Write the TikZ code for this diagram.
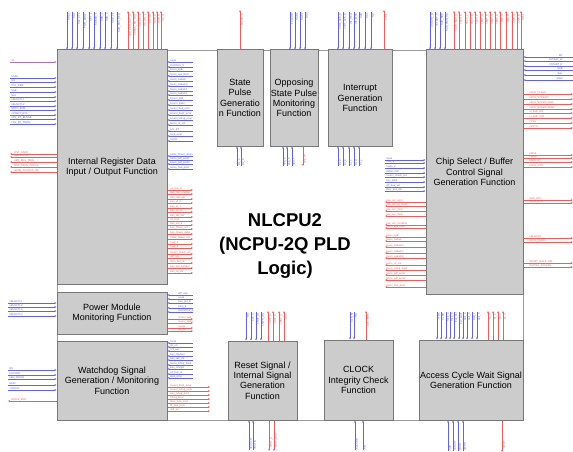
\documentclass[tikz,border=0pt]{standalone}
\usepackage{fontspec}
\setmainfont{Liberation Sans}
\usetikzlibrary{arrows.meta}
\definecolor{sigBlue}{RGB}{95,95,255}
\definecolor{sigRed}{RGB}{255,85,85}
\definecolor{sigMix}{RGB}{175,110,190}
\definecolor{blkFill}{RGB}{204,204,204}
\definecolor{blkLine}{RGB}{120,120,120}
\tikzset{
    funcBox/.style={
        draw=blkLine,
        line width=1pt,
        fill=blkFill,
        align=center,
        inner sep=0pt,
        font=\fontsize{9}{10.3}\selectfont
    },
    frameLine/.style={
        draw=blkLine!75,
        line width=0.9pt
    },
    sigIn/.style={
        draw=sigBlue,
        line width=0.55pt,
        -{Stealth[length=2.2pt,width=1.8pt]}
    },
    sigOut/.style={
        draw=sigRed,
        line width=0.55pt,
        -{Stealth[length=2.2pt,width=1.8pt]}
    },
    sigLbl/.style={
        font=\fontsize{2.6}{3}\selectfont,
        inner sep=0.2pt
    },
    lblTop/.style={sigLbl,rotate=90,anchor=north east},
    lblBot/.style={sigLbl,rotate=90,anchor=north west},
    lblSide/.style={sigLbl,anchor=south west}
}
\begin{document}
\begin{tikzpicture}[x=1pt,y=-1pt]
    \useasboundingbox (0,0) rectangle (573,452);
    \draw[frameLine] (57,50) rectangle (523,420);

    % function blocks
    \node[funcBox,minimum width=110pt,minimum height=234pt] (ireg) at (112,167) {Internal Register Data\\Input / Output Function};
    \node[funcBox,minimum width=110pt,minimum height=42pt] (pwr) at (112,313) {Power Module\\Monitoring Function};
    \node[funcBox,minimum width=110pt,minimum height=79pt] (wdg) at (112,380.5) {Watchdog Signal\\Generation / Monitoring\\Function};
    \node[funcBox,minimum width=46pt,minimum height=96pt] (spg) at (240,98) {State\\Pulse\\Generatio\\n Function};
    \node[funcBox,minimum width=48pt,minimum height=96pt] (osp) at (294,98) {Opposing\\State Pulse\\Monitoring\\Function};
    \node[funcBox,minimum width=64pt,minimum height=96pt] (irq) at (360,98) {Interrupt\\Generation\\Function};
    \node[funcBox,minimum width=97pt,minimum height=244pt] (csb) at (474.5,172) {Chip Select / Buffer\\Control Signal\\Generation Function};
    \node[funcBox,minimum width=69pt,minimum height=79pt] (rst) at (262.5,380.5) {Reset Signal /\\Internal Signal\\Generation\\Function};
    \node[funcBox,minimum width=69pt,minimum height=80pt] (clk) at (358.5,380) {CLOCK\\Integrity Check\\Function};
    \node[funcBox,minimum width=104pt,minimum height=80pt] (acw) at (471,380) {Access Cycle Wait Signal\\Generation Function};

    \node[font=\fontsize{18.5}{24}\selectfont\bfseries,align=center] (title) at (285,246) {NLCPU2\\(NCPU-2Q PLD\\Logic)};

    % internal register data block
    \foreach \x/\s in {67/SRA1,72/SA1,77/SA2\_CTL,83/PWR\_NONE,89/SET\_1,94/SDBUS\_1,100/SDB\_1,105/SDB\_2,111/SDB\_3T,117/SDB\_BUS\_REQ}{
        \draw[sigIn] (\x,12) -- (\x,0 |- ireg.north);
        \node[lblTop,text=sigBlue] at (\x+0.6,13) {\s};
    }
    \foreach \x/\s in {128/SDB\_ADR\_OUT\_A,133/SDBUS\_EN\_OUT,138/SD\_OE\_1,143/SD\_OE\_2,148/SD\_WE,153/SDB\_D,157/SDB\_R,161/SD\_Q}{
        \draw[sigOut] (\x,0 |- ireg.north) -- (\x,11);
        \node[lblTop,text=sigRed] at (\x+0.6,14) {\s};
    }
    \draw[draw=sigMix,line width=0.55pt,-{Stealth[length=2.2pt,width=1.8pt]}] (10,62) -- (ireg.west |- 0,62);
    \node[lblSide,text=sigMix] at (11,62) {IO};
    \foreach \y/\s in {78/SAIM,82/RD,87/CLK\_RMS,92/SAB,97/SAL,101/nBUSCTL1,106/nBUSCTL2,110/SDTC\_ENB,115/nSTART\_RTC,119/nCS\_RT\_BUSSB,124/nCS\_RT\_TMEM}{
        \draw[sigIn] (10,\y) -- (ireg.west |- 0,\y);
        \node[lblSide,text=sigBlue] at (11,\y) {\s};
    }
    \foreach \y/\s in {154/RST\_CARD,157/nBUS\_RTX,162/nES\_BUS\_TAKE,167/BSY\_SENS\_CHECK,172/BUSE\_ACCESS\_NG}{
        \draw[sigOut] (ireg.west |- 0,\y) -- (10,\y);
        \node[lblSide,text=sigRed] at (14,\y) {\s};
    }
    \foreach \y/\s in {62/reset,67/CLKBUS\_S,71/tasco\_spB,76/tasco\_spe\_fluid,81/tasco\_sabreh,86/tasco\_sabreh0,91/tasco\_sabreh1,95/tasco\_sabreh2,100/tcount\_spB,105/tcount\_spB2,110/tcount\_bus\_error,115/tcount\_flush\_error,120/tcount\_tchng\_error,125/tasco\_nr\_cnt,131/pcs\_RT,136/tacs\_error,141/CLKB,156/pulse\_flower\_down,160/tasco\_pdf\_pont1,164/tasco\_pdf\_pont2,169/tasco\_tree\_pont}{
        \draw[sigIn] (193,\y) -- (ireg.east |- 0,\y);
        \node[lblSide,text=sigBlue] at (170,\y) {\s};
    }
    \foreach \y/\s in {190/cd\_bus\_in,194/bus\_mst\_enable,199/bus\_mst\_gB,203/bus\_id\_0,208/bus\_id\_1,212/bus\_pr\_id,217/bus\_tat\_rnd,221/rd\_cmd,225/bus\_sel\_q,229/bus\_flower\_sel,234/bus\_flower\_defer,239/pulse\_flower\_sel,244/fnse\_a,248/fnse\_b,254/recerv\_check\_sel,258/diff\_sig,263/tbus\_fwd\_dc,268/bus\_stp\_handler,273/bus\_ivt\_clk}{
        \draw[sigOut] (ireg.east |- 0,\y) -- (193,\y);
        \node[lblSide,text=sigRed] at (170,\y) {\s};
    }

    % power module block
    \foreach \y/\s in {303/nBUSCTL1,307/nBUSCTL2,311/nBUSCTL3,316/nBUSCTL4}{
        \draw[sigIn] (8,\y) -- (pwr.west |- 0,\y);
        \node[lblSide,text=sigBlue] at (9,\y) {\s};
    }
    \foreach \y/\s in {295/diff\_sign,299/reset,303/bus\_get\_B,308/btop\_a,312/CLKSTOP\_b}{
        \draw[sigIn] (193,\y) -- (pwr.east |- 0,\y);
        \node[lblSide,text=sigBlue] at (178,\y) {\s};
    }
    \foreach \y/\s in {319/tcount\_spB,323/tcount\_spB2,328/CLKB,331/tcs\_err}{
        \draw[sigOut] (pwr.east |- 0,\y) -- (193,\y);
        \node[lblSide,text=sigRed] at (178,\y) {\s};
    }

    % watchdog block
    \foreach \y/\s in {370/RD,375/CLKSRB,379/nEN\_WDGB,385/SAIN,390/nTRDSC}{
        \draw[sigIn] (8,\y) -- (wdg.west |- 0,\y);
        \node[lblSide,text=sigBlue] at (9,\y) {\s};
    }
    \draw[sigOut] (wdg.west |- 0,401) -- (8,401);
    \node[lblSide,text=sigRed] at (11,401) {WDGB\_ERR};
    \foreach \y/\s in {343/reset,347/dc\_err,351/cnt\_val,356/bus\_clpower,360/bus\_tatr\_clk,365/tasco\_tchng\_flush,369/bus\_tchngB,374/cd\_bus\_in,378/tacs\_error}{
        \draw[sigIn] (193,\y) -- (wdg.east |- 0,\y);
        \node[lblSide,text=sigBlue] at (170,\y) {\s};
    }
    \foreach \y/\s in {387/tcount\_flush\_error,391/tcount\_tchng\_error,395/bus\_tchng\_error,399/tchng\_error,403/tbus\_tacs\_error,407/tb\_bus\_error,411/wdt\_err}{
        \draw[sigOut] (wdg.east |- 0,\y) -- (210,\y);
        \node[lblSide,text=sigRed] at (170,\y) {\s};
    }

    % state pulse / opposing / interrupt blocks
    \draw[sigOut] (spg.north) -- (240,10);
    \node[lblTop,text=sigRed] at (240.6,14) {PULSE\_0};
    \foreach \x/\s in {237/pls\_a,241/pls\_b}{
        \draw[sigIn] (\x,166) -- (\x,0 |- spg.south);
        \node[lblBot,text=sigBlue] at (\x+0.6,166) {\s};
    }
    \foreach \x/\s in {290/TCOUNT,295/SAB1,300/SAB2,305/SA0}{
        \draw[sigIn] (\x,12) -- (\x,0 |- osp.north);
        \node[lblTop,text=sigBlue] at (\x+0.6,13) {\s};
    }
    \foreach \x/\s in {283/opp\_a,287/opp\_b,292/opp\_c}{
        \draw[sigIn] (\x,166) -- (\x,0 |- osp.south);
        \node[lblBot,text=sigBlue] at (\x+0.6,166) {\s};
    }
    \draw[sigOut] (303,0 |- osp.south) -- (303,166);
    \node[lblBot,text=sigRed] at (303.6,164) {opp\_err};
    \foreach \x/\s in {338/nINT\_ACK\_A,343/nINT\_ACK\_B,349/INT\_REQ,354/INT\_MSK,359/SAB,365/SAL,371/RD}{
        \draw[sigIn] (\x,12) -- (\x,0 |- irq.north);
        \node[lblTop,text=sigBlue] at (\x+0.6,13) {\s};
    }
    \draw[sigOut] (384,0 |- irq.north) -- (384,10);
    \node[lblTop,text=sigRed] at (384.6,14) {nINT};
    \foreach \x/\s in {338/int\_a,343/int\_b,349/int\_c,354/int\_d,359/int\_e}{
        \draw[sigIn] (\x,166) -- (\x,0 |- irq.south);
        \node[lblBot,text=sigBlue] at (\x+0.6,166) {\s};
    }

    % chip select / buffer block
    \foreach \x/\s in {430/nSTART\_W,435/nSTART\_R,440/SAB\_RDB,445/SAB\_MEM\_RD}{
        \draw[sigIn] (\x,12) -- (\x,0 |- csb.north);
        \node[lblTop,text=sigBlue] at (\x+0.6,13) {\s};
    }
    \foreach \x/\s in {454/nSCS\_BUS\_A,459/nSCS\_B,465/nSCS\_C,470/nSCS\_D,475/nSCS\_E,480/nBUF\_A,485/nBUF\_B,490/nBUF\_C,495/nBUF\_D,500/nOE\_A,506/nOE\_B,512/nWE\_A,517/nWE\_B,521/nSEL}{
        \draw[sigOut] (\x,0 |- csb.north) -- (\x,11);
        \node[lblTop,text=sigRed] at (\x+0.6,14) {\s};
    }
    \foreach \y/\s in {57/RD,61/nSTART\_W,66/nSTART\_R,70/SAB,75/SAL,80/SRW}{
        \draw[sigIn] (573,\y) -- (csb.east |- 0,\y);
        \node[lblSide,text=sigBlue,anchor=south east] at (563,\y) {\s};
    }
    \foreach \y/\s in {94/nSCS\_FLASH,99/nSCS\_STREAM,104/nSCS\_BACKPLANE,109/nSCS\_BACKPLANE2,113/nI\_BUF\_EN,118/nI\_BUF\_DIR,123/nCSS,128/nCSTS,155/nRDB,158/nWRB,162/nSCS\_RT,167/nSCS\_CMT,200/SAS\_RTS,203/nSCS\_RTS,238/nBUSRDY,242/nSYS\_TCMD,263/RESET\_BACK\_SEL,267/RUTINE\_ACCESS}{
        \draw[sigOut] (csb.east |- 0,\y) -- (573,\y);
        \node[lblSide,text=sigRed] at (529,\y) {\s};
    }
    \foreach \y/\s in {160/reset,163/fnse\_a,168/fnsde\_a,173/trstart\_mdt,177/reserv\_check\_sel,182/bcc\_seldt,187/dfr\_bus\_sel,191/tbus\_fwd\_stb}{
        \draw[sigIn] (385,\y) -- (csb.west |- 0,\y);
        \node[lblSide,text=sigBlue] at (386,\y) {\s};
    }
    \foreach \y/\s in {202/pse\_scn\_pont,206/pse\_scn\_pt\_mcsk,211/pse\_scn\_form,216/pse\_scn\_flush,225/pse\_scn\_fsndRdy,228/tasco\_spe\_fluid,237/tasco\_spB,241/tasco\_sabreh,247/tasco\_sabreh0,253/tasco\_sabreh1,258/tasco\_sabreh2,265/tasco\_nr\_cnt,270/tasco\_tchng\_flush,275/tasco\_pdf\_pont1,280/tasco\_pdf\_pont2,287/tasco\_tree\_pont}{
        \draw[sigOut] (csb.west |- 0,\y) -- (385,\y);
        \node[lblSide,text=sigRed] at (386,\y) {\s};
    }

    % reset / clock / access cycle wait blocks
    \foreach \x/\s in {246/RD,251/CLK\_A,256/nRST\_IN,261/nPWR\_ON}{
        \draw[sigIn] (\x,312) -- (\x,0 |- rst.north);
        \node[lblTop,text=sigBlue] at (\x+0.6,313) {\s};
    }
    \foreach \x/\s in {268/nRST\_A,273/nRST\_B,279/nRST\_C,284/RST}{
        \draw[sigOut] (\x,0 |- rst.north) -- (\x,311);
        \node[lblTop,text=sigRed] at (\x+0.6,314) {\s};
    }
    \foreach \x/\s in {249/nBUSCTL,253/nRSTIN}{
        \draw[sigIn] (\x,450) -- (\x,0 |- rst.south);
        \node[lblBot,text=sigBlue] at (\x+0.6,450) {\s};
    }
    \foreach \x/\s in {269/nRST\_O,274/nRST\_OUT}{
        \draw[sigOut] (\x,0 |- rst.south) -- (\x,451);
        \node[lblBot,text=sigRed] at (\x+0.6,448) {\s};
    }
    \foreach \x/\s in {350/CLK\_M,354/RD}{
        \draw[sigIn] (\x,312) -- (\x,0 |- clk.north);
        \node[lblTop,text=sigBlue] at (\x+0.6,313) {\s};
    }
    \draw[sigOut] (366,0 |- clk.north) -- (366,311);
    \node[lblTop,text=sigRed] at (366.6,314) {CLK\_ERR};
    \foreach \x/\s in {355/CLKSRB,363/SR}{
        \draw[sigIn] (\x,450) -- (\x,0 |- clk.south);
        \node[lblBot,text=sigBlue] at (\x+0.6,450) {\s};
    }
    \foreach \x/\s in {437/reset,441/CLKB,446/fnse\_a,450/fnse\_b,454/bus\_sel,459/bcc\_seldt,463/wait\_a,467/wait\_b,472/wait\_c,477/wait\_d}{
        \draw[sigIn] (\x,312) -- (\x,0 |- acw.north);
        \node[lblTop,text=sigBlue] at (\x+0.6,313) {\s};
    }
    \foreach \x/\s in {488/wt\_a,493/wt\_b,498/wt\_c,503/wt\_d}{
        \draw[sigOut] (\x,0 |- acw.north) -- (\x,311);
        \node[lblTop,text=sigRed] at (\x+0.6,314) {\s};
    }
    \foreach \x/\s in {448/SAB,453/nSTART,458/nRDB,463/nWRB}{
        \draw[sigIn] (\x,451) -- (\x,0 |- acw.south);
        \node[lblBot,text=sigBlue] at (\x+0.6,451) {\s};
    }
    \draw[sigOut] (502,0 |- acw.south) -- (502,452);
    \node[lblBot,text=sigRed] at (502.6,449) {nWAIT};
\end{tikzpicture}
\end{document}
